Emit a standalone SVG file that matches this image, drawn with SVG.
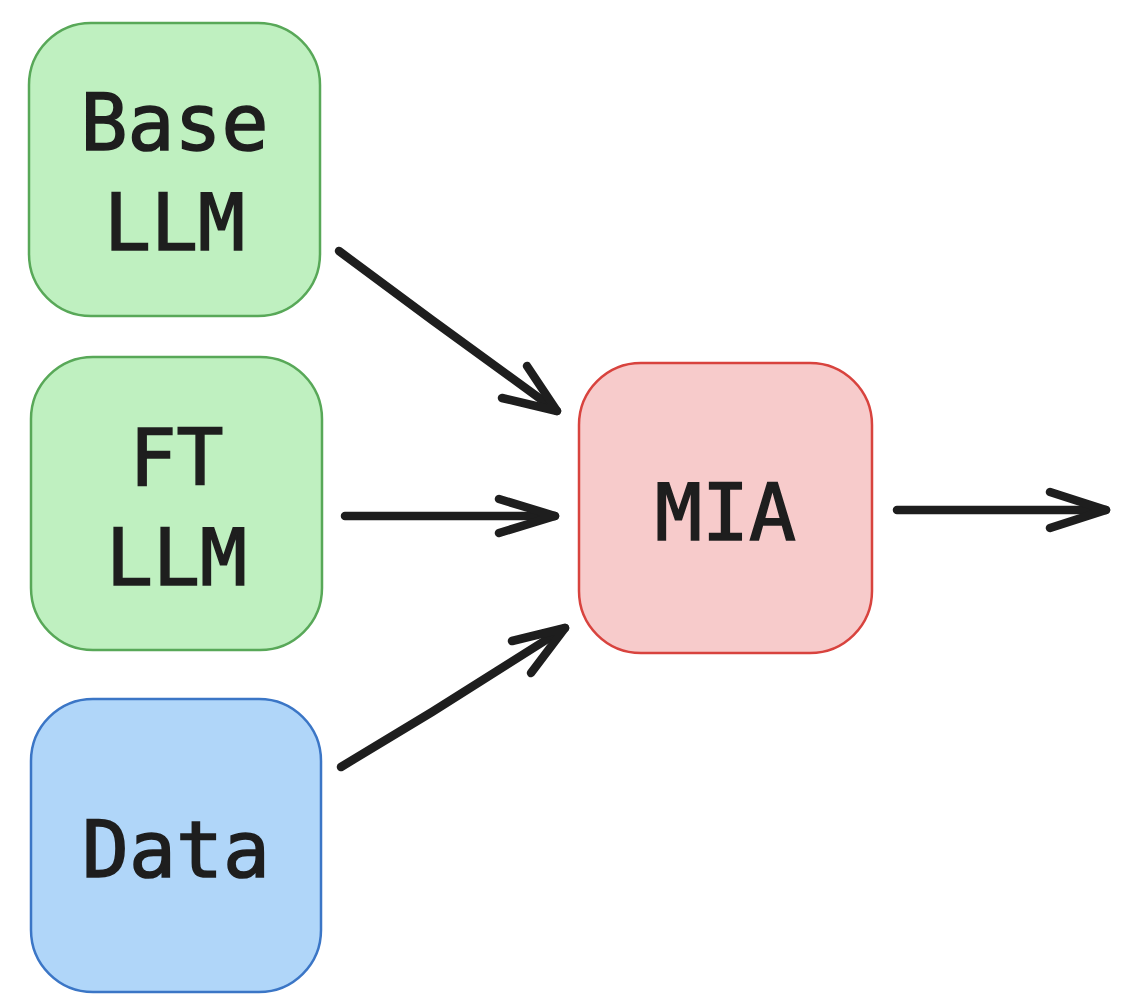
<svg xmlns="http://www.w3.org/2000/svg" width="1124" height="1006" viewBox="0 0 1124 1006">
<style>
.lbl{font-family:"DejaVu Sans Mono","Liberation Mono",monospace;font-size:78px;fill:#1e1e1e;stroke:#1e1e1e;stroke-width:1.6;text-anchor:middle}
.green{fill:#bff0c0;stroke:#58a858;stroke-width:2.5}
.red{fill:#f7cbcb;stroke:#d8433e;stroke-width:2.5}
.blue{fill:#b0d6f9;stroke:#3b76c6;stroke-width:2.5}
.arr{fill:none;stroke:#1e1e1e;stroke-width:8.5;stroke-linecap:round;stroke-linejoin:round}
</style>
<rect width="1124" height="1006" fill="#ffffff"/>
<g id="base-llm">
<rect class="green" x="29" y="23" width="291" height="293" rx="62"/>
<text class="lbl" x="174.5" y="150">Base</text>
<text class="lbl" x="174.5" y="250">LLM</text>
</g>
<g id="ft-llm">
<rect class="green" x="31" y="357" width="291" height="293" rx="62"/>
<text class="lbl" x="176.5" y="485">FT</text>
<text class="lbl" x="176.5" y="585">LLM</text>
</g>
<g id="data">
<rect class="blue" x="31" y="699" width="290" height="293" rx="62"/>
<text class="lbl" x="176" y="877">Data</text>
</g>
<g id="mia">
<rect class="red" x="579" y="363" width="293" height="290" rx="62"/>
<text class="lbl" x="725.5" y="540">MIA</text>
</g>
<g id="connectors">
<polyline class="arr" points="339,251 432,320 557,411"/>
<polyline class="arr" points="527,366 557,411 502,398"/>
<line class="arr" x1="345" y1="516" x2="555" y2="516"/>
<polyline class="arr" points="499,499 555,516 499,533"/>
<polyline class="arr" points="341,767 432,712 565,628"/>
<polyline class="arr" points="512,641 565,628 531,673"/>
<line class="arr" x1="897" y1="510" x2="1106" y2="510"/>
<polyline class="arr" points="1050,492 1106,510 1050,528"/>
</g>
</svg>
